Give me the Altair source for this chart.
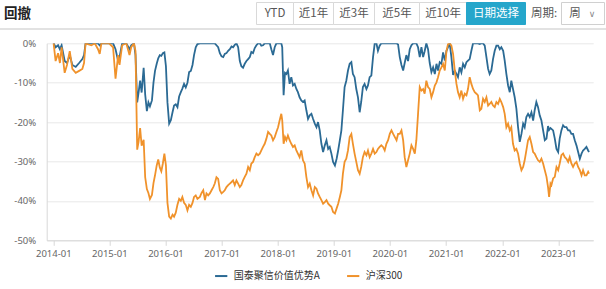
import altair as alt
import pandas as pd

# ---------------- data (drawdown, %) ----------------
dates = [
    # 2014 - mid 2015
    "2014-01-03", "2014-01-16", "2014-02-01", "2014-02-13", "2014-02-24", "2014-03-16", "2014-03-31",
    "2014-04-18", "2014-05-05", "2014-05-27", "2014-06-18", "2014-07-09", "2014-07-20", "2014-07-30",
    "2014-09-06", "2014-09-28", "2014-10-19", "2014-10-30", "2014-11-10", "2014-12-30", "2015-01-25",
    "2015-02-10", "2015-02-27", "2015-03-08", "2015-03-25", "2015-04-21", "2015-05-12", "2015-05-23",
    "2015-06-10",
    # 2015-06 - 2016-07
    "2015-06-20", "2015-07-01", "2015-07-10", "2015-07-20", "2015-07-30", "2015-08-12", "2015-08-22",
    "2015-09-02", "2015-09-12", "2015-09-22", "2015-10-05", "2015-10-15", "2015-10-25", "2015-11-05",
    "2015-11-15", "2015-11-25", "2015-12-05", "2015-12-15", "2015-12-25",
    "2016-01-04", "2016-01-14", "2016-01-25", "2016-02-05", "2016-02-16", "2016-02-26", "2016-03-08",
    "2016-03-19", "2016-03-30", "2016-04-10", "2016-04-20", "2016-05-01", "2016-05-12", "2016-05-23",
    "2016-06-03", "2016-06-14", "2016-06-25", "2016-07-05", "2016-07-16", "2016-07-27",
    # 2016-08 - 2018-01
    "2016-08-12", "2016-08-23", "2016-09-03", "2016-09-14", "2016-09-24", "2016-10-05", "2016-10-16",
    "2016-10-27", "2016-11-07", "2016-11-17", "2016-11-28", "2016-12-09", "2016-12-20", "2016-12-31",
    "2017-01-11", "2017-01-21", "2017-02-01", "2017-02-12", "2017-02-23", "2017-03-06", "2017-03-16",
    "2017-03-27", "2017-04-07", "2017-04-18", "2017-04-29", "2017-05-09", "2017-05-20", "2017-05-31",
    "2017-06-11", "2017-06-22", "2017-07-03", "2017-07-13", "2017-07-24", "2017-08-04", "2017-08-15",
    "2017-08-26", "2017-09-06", "2017-09-16", "2017-09-27", "2017-10-08", "2017-10-19", "2017-10-30",
    "2017-11-10", "2017-11-20", "2017-12-01", "2017-12-12", "2017-12-23",
    # 2018 - 2020-02
    "2018-01-03", "2018-01-13", "2018-01-24", "2018-01-30", "2018-02-08", "2018-02-17", "2018-02-26",
    "2018-03-08", "2018-03-19", "2018-03-30", "2018-04-10", "2018-04-21", "2018-05-02", "2018-05-12",
    "2018-05-23", "2018-06-03", "2018-06-14", "2018-06-25", "2018-07-06", "2018-07-17", "2018-07-28",
    "2018-08-08", "2018-08-19", "2018-08-30", "2018-09-10", "2018-09-20", "2018-10-01", "2018-10-12",
    "2018-10-23", "2018-11-03", "2018-11-14", "2018-11-25", "2018-12-05", "2018-12-16", "2018-12-27",
    "2019-01-08", "2019-01-19", "2019-01-29", "2019-02-09", "2019-02-19", "2019-03-01", "2019-03-12",
    "2019-03-23", "2019-04-03", "2019-04-14", "2019-04-25", "2019-05-05", "2019-05-16", "2019-05-27",
    "2019-06-07", "2019-06-18", "2019-06-28", "2019-07-09", "2019-07-20", "2019-08-01", "2019-08-11",
    "2019-08-22", "2019-09-02", "2019-09-13", "2019-09-24", "2019-10-05", "2019-10-15", "2019-10-26",
    "2019-11-06", "2019-11-17", "2019-11-28", "2019-12-09", "2019-12-20", "2019-12-31",
    "2020-01-11", "2020-01-22", "2020-02-02", "2020-02-13", "2020-02-23",
    # 2020-03 - 2021-12
    "2020-03-05", "2020-03-16", "2020-03-27", "2020-04-06", "2020-04-17", "2020-04-28", "2020-05-09",
    "2020-05-20", "2020-05-31", "2020-06-11", "2020-06-21", "2020-07-02", "2020-07-13", "2020-07-24",
    "2020-08-04", "2020-08-14", "2020-08-25", "2020-09-05", "2020-09-16", "2020-09-27", "2020-10-08",
    "2020-10-19", "2020-10-30", "2020-11-09", "2020-11-20", "2020-12-01", "2020-12-12", "2020-12-23",
    "2021-01-03", "2021-01-13", "2021-01-24", "2021-02-04", "2021-02-15", "2021-02-26", "2021-03-09",
    "2021-03-19", "2021-03-30", "2021-04-10", "2021-04-21", "2021-05-02", "2021-05-13", "2021-05-23",
    "2021-06-03", "2021-06-14", "2021-06-25", "2021-07-06", "2021-07-17", "2021-07-27", "2021-08-08",
    "2021-08-18", "2021-08-29", "2021-09-09", "2021-09-20", "2021-10-01", "2021-10-11", "2021-10-22",
    "2021-11-02", "2021-11-13", "2021-11-24", "2021-12-05", "2021-12-16", "2021-12-26",
    # 2022 - 2023
    "2022-01-07", "2022-01-17", "2022-01-28", "2022-02-08", "2022-02-19", "2022-03-01", "2022-03-12",
    "2022-03-23", "2022-04-03", "2022-04-14", "2022-04-25", "2022-05-06", "2022-05-17", "2022-05-27",
    "2022-06-07", "2022-06-18", "2022-06-29", "2022-07-10", "2022-07-21", "2022-07-31", "2022-08-11",
    "2022-08-22", "2022-09-02", "2022-09-13", "2022-09-24", "2022-10-05", "2022-10-16", "2022-10-26",
    "2022-11-02", "2022-11-11", "2022-11-17", "2022-11-28", "2022-12-09", "2022-12-20", "2022-12-31",
    "2023-01-10", "2023-01-21", "2023-02-01", "2023-02-12", "2023-02-23", "2023-03-06", "2023-03-16",
    "2023-03-27", "2023-04-07", "2023-04-18", "2023-04-29", "2023-05-10", "2023-05-21", "2023-06-01",
    "2023-06-11", "2023-06-22", "2023-07-03", "2023-07-14", "2023-07-20",
]

fund_dd = [
    0, -1.0, -0.5, -1.5, -0.5, -4.5, -5.0, -3.0, -5.5, -6.0, -5.0, -4.0, -3.0, 0,
    0, 0, 0, -0.5, 0, 0, 0, -1.5, -4.5, -3.5, 0, 0, -1.5, -0.5, 0,
    -3.0, -15.0, -12.5, -9.5, -12.5, -6.2, -13.0, -17.2, -15.0, -16.0, -14.5, -10.0, -7.0, -5.2,
    -3.8, -3.0, -3.2, -2.5, -2.3,
    -5.8, -15.0, -20.4, -19.5, -17.5, -15.8, -15.5, -16.2, -13.5, -12.4, -11.5, -10.3, -11.2, -10.0,
    -7.3, -7.0, -5.5, -3.0, -1.0, -0.2,
    0, 0, 0, 0, 0, 0, 0, 0, 0, 0, -0.5, -1.0, -2.5, -3.3,
    -3.5, -2.7, -2.5, -1.9, -1.5, -0.8, -1.0, -0.4, 0, -1.0, -4.5, -5.8, -6.2, -5.2,
    -4.5, -4.0, -3.5, -2.2, -2.5, -1.2, -0.5, 0, 0, -0.6, -0.5, 0, 0, 0,
    0, -1.5, -3.0, -1.0, 0,
    0, 0, 0, -1.0, -13.2, -7.5, -7.8, -6.9, -10.3, -8.6, -10.7, -10.3, -11.6, -12.4,
    -13.7, -14.5, -14.9, -14.5, -17.0, -19.2, -18.3, -17.9, -19.2, -20.4, -21.3, -20.0, -22.1, -25.5,
    -27.6, -25.9, -24.6, -26.8, -26.3, -28.0, -30.1,
    -31.0, -29.3, -27.2, -24.6, -22.1, -17.0, -11.1, -9.5, -6.9, -5.2, -4.8, -7.8, -8.6, -11.6,
    -13.7, -17.5, -14.9, -11.1, -10.3, -11.6, -10.7, -8.6, -8.2, -3.5, 0, 0, -1.9, -0.6,
    0, 0, 0, 0, 0, 0,
    0, 0, 0, 0, -0.3,
    -3.5, -5.5, -6.9, -5.0, -3.0, -4.5, -1.5, -0.5, 0, 0, 0, -1.0, -3.5, -1.0,
    -3.5, -2.0, 0, -1.5, -5.0, -7.3, -6.1, -7.8, -5.2, -6.9, -4.8, -5.2, -2.3, -4.4,
    -1.9, -1.0, 0, -3.5, -8.0, -7.0, -7.8, -8.6, -6.1, -7.4, -5.2, -6.1, -4.8, -4.4,
    -4.0, -1.9, 0, 0, 0, 0, -0.2, 0, 0, -0.6, -3.5, -6.5, -7.8, -6.9,
    -4.0, -1.9, -0.6, -0.6, -1.5, -1.0,
    -1.9, -4.4, -7.8, -10.7, -12.4, -9.5, -11.6, -13.7, -16.6, -21.3, -25.0, -23.0, -20.4, -21.3,
    -18.7, -17.9, -18.7, -17.5, -19.6, -17.0, -14.9, -16.2, -18.3, -19.6, -22.1, -24.6, -24.2, -21.0,
    -22.0, -21.5, -21.7, -22.1, -24.2, -26.8, -27.6,
    -24.2, -22.1, -20.8, -21.3, -21.3, -22.1, -22.1, -23.0, -23.0, -24.6, -25.9, -27.6, -29.3, -28.0,
    -27.2, -26.8, -26.3, -27.2, -27.6,
]

hs300_dd = [
    0, -4.5, -2.5, -5.0, -1.0, -7.5, -5.5, -2.0, -6.5, -7.5, -7.0, -6.5, -5.0, 0,
    -0.5, 0, -1.5, -2.7, 0, 0, -1.0, -9.0, -3.0, -5.5, -0.5, 0, -3.0, -1.0, 0,
    -2.0, -27.0, -25.0, -21.5, -26.0, -24.5, -34.0, -37.0, -38.0, -39.5, -38.5, -35.5, -33.5, -31.0,
    -29.5, -31.5, -32.5, -30.5, -28.0,
    -31.0, -40.5, -44.0, -44.5, -43.5, -44.0, -43.0, -41.0, -39.5, -40.0, -39.0, -40.5, -41.0, -42.4,
    -41.0, -41.5, -40.5, -39.0, -38.6, -39.5,
    -39.0, -38.0, -37.3, -39.8, -38.1, -38.6, -38.1, -37.3, -36.5, -35.6, -34.0, -34.4, -37.3, -38.1,
    -37.7, -37.3, -36.5, -36.0, -35.6, -35.2, -34.8, -36.0, -34.8, -35.6, -36.5, -36.0, -34.8, -33.9,
    -33.1, -31.4, -32.2, -30.5, -30.1, -28.9, -28.0, -28.4, -28.0, -27.2, -26.3, -25.5, -24.2, -22.5,
    -23.0, -23.4, -24.6, -23.8, -22.5,
    -21.3, -19.6, -17.9, -19.5, -25.5, -23.8, -24.6, -23.4, -24.6, -25.5, -26.3, -25.9, -27.2, -28.0,
    -28.9, -27.2, -29.7, -30.5, -33.9, -36.5, -35.6, -37.3, -38.6, -36.5, -36.9, -38.1, -39.0, -39.8,
    -40.7, -40.3, -39.8, -40.7, -41.1, -41.5, -42.8,
    -43.2, -41.9, -40.7, -39.0, -37.3, -33.1, -30.1, -29.3, -27.2, -23.8, -23.0, -25.5, -28.0, -30.1,
    -32.2, -33.1, -31.4, -28.9, -27.6, -28.4, -27.2, -28.9, -28.0, -26.8, -28.0, -27.6, -26.8, -26.3,
    -25.9, -26.3, -27.2, -25.5, -24.6, -23.0,
    -22.1, -23.0, -23.8, -24.6, -23.0,
    -23.0, -22.1, -24.6, -28.9, -31.4, -29.7, -28.0, -25.9, -26.8, -28.0, -24.6, -17.9, -11.1, -12.0,
    -11.6, -12.8, -9.5, -11.1, -11.6, -13.7, -12.4, -10.7, -9.9, -8.6, -6.9, -6.1, -5.2, -6.9,
    -1.9, -0.2, 0, -0.6, -2.7, -6.9, -10.3, -12.4, -13.7, -12.0, -14.1, -12.8, -13.2, -11.6,
    -8.6, -10.3, -11.6, -12.4, -12.8, -13.2, -17.0, -16.6, -14.1, -14.9, -13.7, -15.8, -15.4, -14.9,
    -15.8, -16.2, -14.9, -15.4, -14.1, -14.9,
    -16.2, -17.9, -21.3, -20.4, -22.1, -21.3, -25.5, -27.2, -26.8, -28.0, -30.5, -32.2, -31.4, -29.7,
    -27.2, -24.6, -23.8, -25.5, -27.6, -28.0, -28.9, -29.7, -30.1, -29.3, -30.5, -32.2, -33.9, -36.5,
    -39.0, -35.6, -36.0, -34.3, -33.9, -31.4, -32.2,
    -30.5, -28.4, -28.0, -28.9, -29.3, -30.1, -28.9, -30.5, -31.4, -30.5, -30.1, -31.4, -32.2, -33.5,
    -32.2, -33.5, -33.5, -32.6, -33.1,
]

series_names = ["国泰聚信价值优势A", "沪深300"]
series_colors = ["#2b6a94", "#f0922b"]
y_ticks = [0, -10, -20, -30, -40, -50]
x_tick_years = [2014, 2015, 2016, 2017, 2018, 2019, 2020, 2021, 2022, 2023]
period_buttons = ["YTD", "近1年", "近3年", "近5年", "近10年", "日期选择"]

assert len(dates) == len(fund_dd) == len(hs300_dd), (len(dates), len(fund_dd), len(hs300_dd))

df = pd.concat([
    pd.DataFrame({"date": dates, "value": fund_dd, "series": series_names[0]}),
    pd.DataFrame({"date": dates, "value": hs300_dd, "series": series_names[1]}),
], ignore_index=True)

# ---------------- layout ----------------
W, H = 546.5, 197.0
PL, PT = 46.7, 43.3
PR, PB = 606 - PL - W, 289 - PT - H
CJK = "Noto Sans CJK SC"
NUM = "Noto Sans"

one = pd.DataFrame({"k": [0]})


def txt(s, px, py, size, color, weight="normal", align="center", font=CJK):
    return alt.Chart(one).mark_text(
        text=s, align=align, baseline="middle", fontSize=size, color=color,
        fontWeight=weight, font=font,
    ).encode(x=alt.value(px - PL), y=alt.value(py - PT))


def box(x0, x1, y0, y1, fill, stroke):
    return alt.Chart(one).mark_rect(fill=fill, stroke=stroke, strokeWidth=1).encode(
        x=alt.value(x0 - PL), x2=alt.value(x1 - PL), y=alt.value(y0 - PT), y2=alt.value(y1 - PT)
    )


decor = []
# header title
decor.append(txt("回撤", 4, 14, 13.5, "#222", weight="bold", align="left"))
# separator line
decor.append(alt.Chart(one).mark_rule(color="#e2e2e2", strokeWidth=2).encode(
    x=alt.value(0 - PL), x2=alt.value(606 - PL), y=alt.value(29 - PT)))
# period buttons
edges = [256, 293, 333, 374, 419, 466, 525]
for i, lab in enumerate(period_buttons):
    active = lab == "日期选择"
    decor.append(box(edges[i] + 0.5, edges[i + 1] + 0.5, 2.5, 24.5,
                     "#25a6cb" if active else "#ffffff", "#25a6cb" if active else "#d9d9d9"))
    decor.append(txt(lab, (edges[i] + edges[i + 1]) / 2 + 0.5, 13.5, 11.5,
                     "#ffffff" if active else "#555555"))
decor.append(txt("周期:", 544, 13.5, 11.5, "#555555"))
decor.append(box(561.5, 604.5, 2.5, 24.5, "#ffffff", "#d0d0d0"))
decor.append(txt("周", 575, 13.5, 11.5, "#555555"))
decor.append(txt("∨", 592, 13.5, 9, "#888888", font="DejaVu Sans"))

x_vals = [alt.DateTime(year=y, month=1, date=1, utc=True) for y in x_tick_years]

lines = alt.Chart(df).mark_line(strokeWidth=1.8, clip=True).encode(
    x=alt.X("date:T", title=None,
            scale=alt.Scale(type="utc",
                            domain=[alt.DateTime(year=2013, month=11, date=19, utc=True),
                                    alt.DateTime(year=2023, month=8, date=16, utc=True)]),
            axis=alt.Axis(values=x_vals, format="%Y-%m", grid=False, labelFlush=False,
                          domainColor="#d8d8d8", tickColor="#d8d8d8", tickSize=5, labelPadding=3,
                          labelFont=NUM, labelFontSize=9.5, labelColor="#666666")),
    y=alt.Y("value:Q", title=None,
            scale=alt.Scale(domain=[-50, 0], nice=False, zero=False),
            axis=alt.Axis(values=y_ticks, labelExpr="datum.value + '%'", grid=True,
                          gridColor="#e8e8e8", domainColor="#d8d8d8", ticks=False, labelPadding=11,
                          labelFont=NUM, labelFontSize=9.5, labelColor="#666666")),
    color=alt.Color("series:N", sort=series_names,
                    scale=alt.Scale(domain=series_names, range=series_colors),
                    legend=alt.Legend(title=None, orient="none", direction="horizontal",
                                      legendX=167, legendY=225, symbolType="stroke",
                                      symbolStrokeWidth=2, symbolSize=150, labelFont=CJK,
                                      labelFontSize=10, labelColor="#333333", columnPadding=22,
                                      labelOffset=5, padding=0, labelLimit=300)),
    order=alt.Order("date:T"),
)

chart = alt.layer(*decor, lines).properties(
    width=W, height=H,
    autosize=alt.AutoSizeParams(type="none"),
    padding={"left": PL, "top": PT, "right": PR, "bottom": PB},
    background="#ffffff",
).configure_view(stroke=None)

chart.save("out.html", embed_options={"renderer": "svg", "actions": False})
